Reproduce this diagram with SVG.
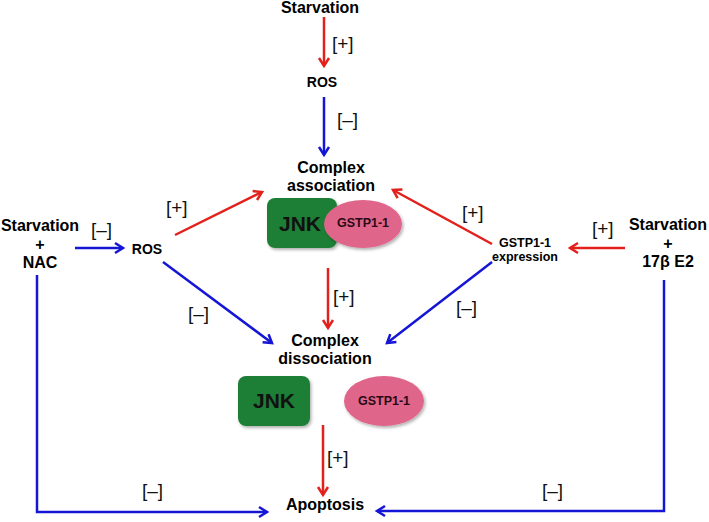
<svg xmlns="http://www.w3.org/2000/svg" width="709" height="522" viewBox="0 0 709 522">
<style>
.lbl{font-family:"Liberation Sans",Arial,sans-serif;font-weight:bold;fill:#000;text-anchor:middle}
.big{font-size:16px}
.mid{font-size:14px}
.sm{font-size:12.5px}
.jnk{font-size:21px;fill:#111}
.sign{font-family:"Liberation Sans",Arial,sans-serif;font-size:19px;fill:#111}
.r{stroke:#e2201c;stroke-width:2.5;fill:none}
.b{stroke:#1515d6;stroke-width:2.5;fill:none}
.box{fill:#1f7f36}
.ell{fill:#e0658b}
</style>
<defs>
<marker id="ar" markerUnits="userSpaceOnUse" markerWidth="16" markerHeight="16" refX="11" refY="8" orient="auto">
<path d="M3,3 L11,8 L3,13" fill="none" stroke="#e2201c" stroke-width="2.5"/>
</marker>
<marker id="ab" markerUnits="userSpaceOnUse" markerWidth="16" markerHeight="16" refX="11" refY="8" orient="auto">
<path d="M3,3 L11,8 L3,13" fill="none" stroke="#1515d6" stroke-width="2.5"/>
</marker>
<filter id="sh" x="-20%" y="-20%" width="140%" height="150%">
<feDropShadow dx="1.5" dy="2" stdDeviation="1.5" flood-color="#000" flood-opacity="0.3"/>
</filter>
</defs>

<g id="connectors">
<line class="r" x1="324" y1="17" x2="324" y2="66" marker-end="url(#ar)"/>
<line class="b" x1="324" y1="97" x2="324" y2="155" marker-end="url(#ab)"/>
<line class="b" x1="75" y1="248" x2="123" y2="248" marker-end="url(#ab)"/>
<line class="r" x1="175" y1="235" x2="262" y2="192" marker-end="url(#ar)"/>
<line class="b" x1="163" y1="262" x2="272" y2="343" marker-end="url(#ab)"/>
<line class="r" x1="492" y1="244" x2="393" y2="190" marker-end="url(#ar)"/>
<line class="b" x1="492" y1="262" x2="387" y2="343" marker-end="url(#ab)"/>
<line class="r" x1="625" y1="248" x2="570" y2="248" marker-end="url(#ar)"/>
<line class="r" x1="328" y1="268" x2="328" y2="328" marker-end="url(#ar)"/>
<line class="r" x1="323" y1="425" x2="323" y2="495" stroke-width="2" marker-end="url(#ar)"/>
<polyline class="b" points="37,275 37,512 267,512" marker-end="url(#ab)"/>
<polyline class="b" points="664,280 664,511 377,511" marker-end="url(#ab)"/>
<text class="sign" x="332" y="49.5">[+]</text>
<text class="sign" x="337" y="125.5">[–]</text>
<text class="sign" x="91" y="235.5">[–]</text>
<text class="sign" x="166" y="213.5">[+]</text>
<text class="sign" x="188" y="319.5">[–]</text>
<text class="sign" x="462" y="218.5">[+]</text>
<text class="sign" x="456" y="313.5">[–]</text>
<text class="sign" x="592" y="234.5">[+]</text>
<text class="sign" x="333" y="302.5">[+]</text>
<text class="sign" x="327" y="463.5">[+]</text>
<text class="sign" x="142" y="496.5">[–]</text>
<text class="sign" x="542" y="496.5">[–]</text>
</g>

<g id="starvation-top"><text class="lbl big" x="320" y="13">Starvation</text></g>
<g id="ros-top"><text class="lbl mid" x="322" y="87">ROS</text></g>
<g id="complex-association">
<text class="lbl big" x="331" y="173">Complex</text>
<text class="lbl big" x="331" y="191">association</text>
</g>
<g id="jnk-1">
<rect class="box" x="267" y="198" width="70" height="50" rx="8" filter="url(#sh)"/>
<text class="lbl jnk" x="300" y="231">JNK</text>
</g>
<g id="gstp-1">
<ellipse class="ell" cx="363" cy="224" rx="39" ry="24" filter="url(#sh)"/>
<text class="lbl sm" x="363" y="227" style="fill:#2a0a14">GSTP1-1</text>
</g>
<g id="starvation-nac">
<text class="lbl big" x="40" y="231">Starvation</text>
<text class="lbl big" x="40" y="250">+</text>
<text class="lbl big" x="40" y="268">NAC</text>
</g>
<g id="ros-left"><text class="lbl mid" x="147" y="254">ROS</text></g>
<g id="gstp-expression">
<text class="lbl sm" x="525" y="247">GSTP1-1</text>
<text class="lbl sm" x="525" y="261">expression</text>
</g>
<g id="starvation-e2">
<text class="lbl big" x="668" y="230">Starvation</text>
<text class="lbl big" x="668" y="249">+</text>
<text class="lbl big" x="668" y="267">17β E2</text>
</g>
<g id="complex-dissociation">
<text class="lbl big" x="325" y="346">Complex</text>
<text class="lbl big" x="325" y="364">dissociation</text>
</g>
<g id="jnk-2">
<rect class="box" x="238" y="376" width="72" height="50" rx="8" filter="url(#sh)"/>
<text class="lbl jnk" x="274" y="408">JNK</text>
</g>
<g id="gstp-2">
<ellipse class="ell" cx="384" cy="401" rx="40" ry="25" filter="url(#sh)"/>
<text class="lbl sm" x="384" y="405" style="fill:#2a0a14">GSTP1-1</text>
</g>
<g id="apoptosis"><text class="lbl big" x="325" y="510">Apoptosis</text></g>
</svg>
